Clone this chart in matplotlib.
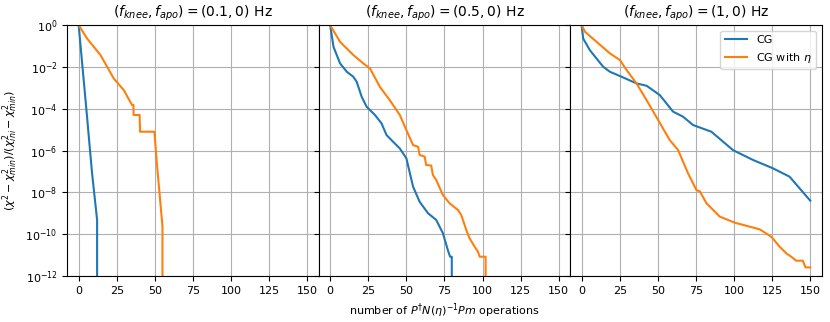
import numpy as np
import matplotlib
matplotlib.use("Agg")
import matplotlib.pyplot as plt

# 읽어낸 값: x = 연산 횟수, y = log10(정규화된 chi^2 차이)
titles = [r"$(f_{knee}, f_{apo}) = (0.1, 0)$ Hz",
          r"$(f_{knee}, f_{apo}) = (0.5, 0)$ Hz",
          r"$(f_{knee}, f_{apo}) = (1, 0)$ Hz"]

# panel 1
cg1_x = [0, 5.1, 8.8, 12.1, 12.1]
cg1_y = [0, -4.06, -7.09, -9.32, -14]
eta1_x = [0, 5.5, 14.3, 23, 29.6, 35, 36, 36, 40, 40.3, 49.7, 51.3, 55, 55]
eta1_y = [0, -0.64, -1.43, -2.55, -3.11, -3.82, -3.82, -4.3, -4.3, -5.1, -5.1, -6.61, -9.64, -14]

# panel 2
cg2_x = [0, 2.2, 6.5, 10.9, 15.2, 17.4, 20.7, 23.9, 29.4, 33.7, 37, 41.3, 45.7,
         50, 54.4, 58.7, 64.2, 69.6, 74, 77.2, 78.7, 79.8, 79.8]
cg2_y = [0, -1.04, -1.83, -2.23, -2.47, -2.71, -3.43, -3.9, -4.3, -4.7, -5.26,
         -5.58, -5.9, -6.37, -7.73, -8.45, -9.0, -9.32, -9.96, -10.76, -11.08, -11.08, -14]
eta2_x = [0, 6.5, 15.2, 21.7, 26.1, 32.6, 39.1, 45.7, 50, 54.4, 57.7, 58.7, 62, 63,
          66.3, 67.4, 69.6, 74, 78.3, 83.8, 86, 89.3, 91.5, 94.8, 97, 98.1, 102, 102]
eta2_y = [0, -0.8, -1.43, -1.83, -2.07, -2.95, -3.59, -4.3, -5.02, -5.74, -5.82,
          -6.21, -6.29, -6.69, -6.72, -7.17, -7.41, -8.13, -8.52, -8.84, -9.08,
          -9.8, -10.2, -10.6, -10.84, -11.08, -11.08, -14]

# panel 3
cg3_x = [0, 1, 5.4, 14.1, 18.5, 26.2, 36, 42.6, 51.3, 60, 66.5, 73.1, 85.1,
         99.3, 112.4, 125.5, 136.4, 150]
cg3_y = [0, -0.64, -1.2, -1.99, -2.23, -2.47, -2.79, -2.9, -3.35, -4.14, -4.38,
         -4.78, -5.1, -5.98, -6.45, -6.85, -7.25, -8.4]
eta3_x = [0, 2.2, 9.8, 18.5, 25.1, 29.5, 36, 42.6, 50.2, 57.8, 63.3, 69.8, 75.3,
          77.5, 81.9, 90.6, 100.4, 116.8, 124.4, 129.9, 134.3, 137.5, 140.8,
          145.1, 146.9, 150]
eta3_y = [0, -0.32, -0.8, -1.35, -1.67, -2.15, -2.79, -3.59, -4.54, -5.5, -5.98,
          -7.09, -7.89, -7.95, -8.52, -9.16, -9.45, -9.77, -10.12, -10.6, -10.92,
          -11.08, -11.27, -11.27, -11.59, -11.59]

cg = [(cg1_x, cg1_y), (cg2_x, cg2_y), (cg3_x, cg3_y)]
eta = [(eta1_x, eta1_y), (eta2_x, eta2_y), (eta3_x, eta3_y)]

fig, axes = plt.subplots(1, 3, figsize=(8.3, 3.22), dpi=100, sharey=True)
fig.subplots_adjust(left=0.081, right=0.99, top=0.922, bottom=0.143, wspace=0)

for ax, t, (cx, cy), (ex, ey) in zip(axes, titles, cg, eta):
    ax.plot(cx, 10.0 ** np.array(cy), color="tab:blue", lw=1.5, label="CG")
    ax.plot(ex, 10.0 ** np.array(ey), color="tab:orange", lw=1.5, label=r"CG with $\eta$")
    ax.set_yscale("log")
    ax.set_ylim(1e-12, 1)
    ax.set_xlim(-7.5, 157.5)
    ax.set_xticks([0, 25, 50, 75, 100, 125, 150])
    ax.set_yticks([10.0 ** -k for k in range(0, 13, 2)])
    ax.minorticks_off()
    ax.grid(True)
    ax.set_title(t, fontsize=10)
    ax.tick_params(labelsize=8)

axes[0].set_ylabel(r"$(\chi^2-\chi^2_{min})/(\chi^2_{ini}-\chi^2_{min})$", fontsize=8)
axes[1].set_xlabel(r"number of $P^{\dagger}N(\eta)^{-1}Pm$ operations", fontsize=8)
axes[2].legend(loc="upper right", fontsize=8)

fig.savefig("out.png", dpi=100)
